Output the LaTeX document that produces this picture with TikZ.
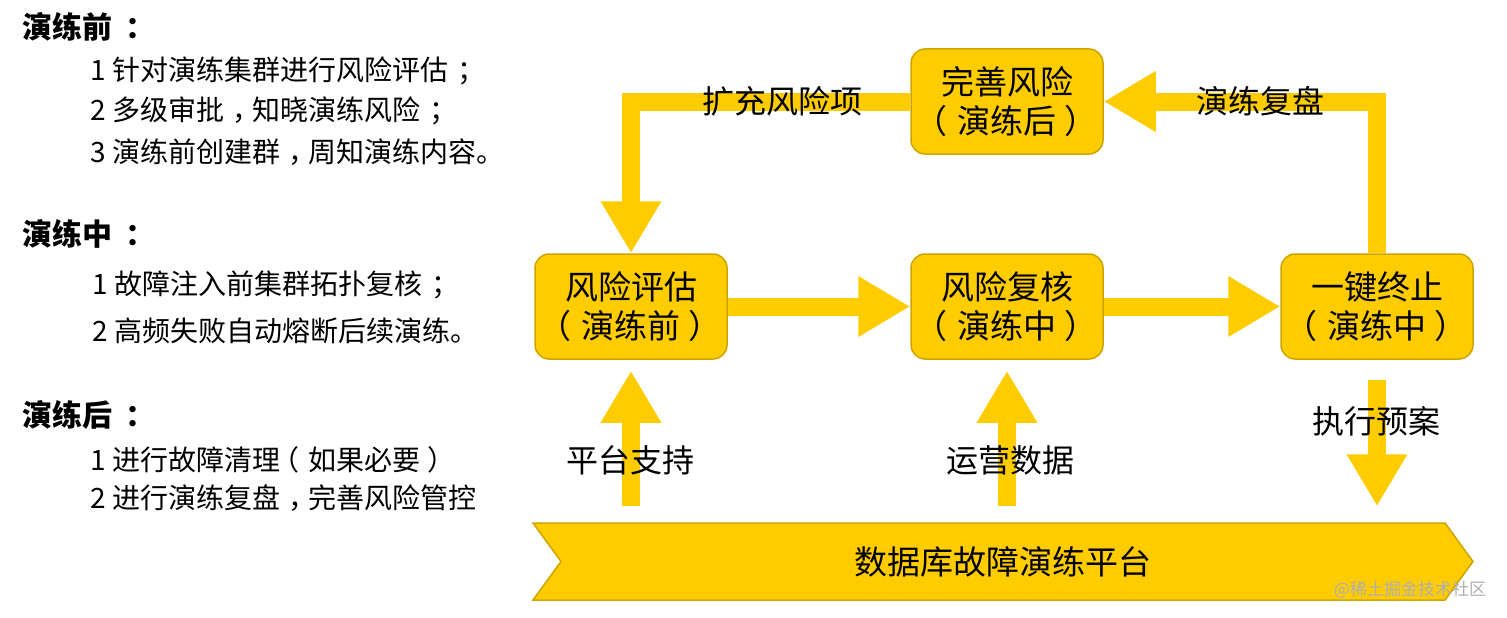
\documentclass[tikz,border=0pt]{standalone}
\usepackage{fontspec}
\setmainfont{Noto Sans CJK SC}
\usetikzlibrary{arrows.meta,shapes.symbols}
\definecolor{gold}{RGB}{255,204,0}
\definecolor{goldedge}{RGB}{205,165,0}
\definecolor{wmgray}{RGB}{175,175,175}
\pgfdeclarelayer{bg}
\pgfsetlayers{bg,main}
\newcommand\pcomma{\kern0.3em，\kern-0.3em}
\newcommand\psemi{\kern0.35em；\kern-0.35em}
\newcommand\pcolon{\kern0.45em：\kern-0.45em}
\newcommand\plp{\kern-0.3em（\kern0.3em}
\newcommand\prp{\kern0.25em）\kern-0.25em}
\begin{document}
\begin{tikzpicture}[x=1pt,y=-1pt,
  box/.style={draw=goldedge, line width=1.5pt, fill=gold, rounded corners=14pt, minimum width=192pt, minimum height=105pt, align=center, font=\fontsize{33}{39}\selectfont, inner sep=0pt},
  blk/.style={draw=gold, line width=18pt, line join=miter, -{Triangle[width=57pt,length=52pt]}},
  lbl/.style={font=\fontsize{32}{38}\selectfont, inner sep=0pt},
  item/.style={anchor=west, font=\fontsize{28}{32}\selectfont, inner sep=0pt},
  headtxt/.style={anchor=west, font=\fontsize{30}{36}\selectfont\bfseries, inner sep=0pt}]
\useasboundingbox (0,0) rectangle (1507,618);

% left text
\node[headtxt] (h1) at (22,27) {演练前\pcolon};
\node[item] (a1) at (90,71) {1 针对演练集群进行风险评估\psemi};
\node[item] (a2) at (90,111) {2 多级审批\pcomma 知晓演练风险\psemi};
\node[item] (a3) at (90,152) {3 演练前创建群\pcomma 周知演练内容。};
\node[headtxt] (h2) at (22,234) {演练中\pcolon};
\node[item] (b1) at (92,285) {1 故障注入前集群拓扑复核\psemi};
\node[item] (b2) at (92,331) {2 高频失败自动熔断后续演练。};
\node[headtxt] (h3) at (22,415) {演练后\pcolon};
\node[item] (c1) at (90,460) {1 进行故障清理\plp 如果必要\prp};
\node[item] (c2) at (90,498) {2 进行演练复盘\pcomma 完善风险管控};

% boxes
\node[box] (pg) at (631,306.5) {风险评估\\\plp 演练前\prp};
\node[box] (fh) at (1007,306.5) {风险复核\\\plp 演练中\prp};
\node[box] (zz) at (1377,306.5) {一键终止\\\plp 演练中\prp};
\node[box] (ws) at (1007,101.5) {完善风险\\\plp 演练后\prp};

% platform chevron
\node[signal, signal to=east, signal from=west, signal pointer angle=108,
  draw=goldedge, fill=gold, line width=1.5pt, minimum width=940pt, minimum height=77pt,
  font=\fontsize{33}{39}\selectfont, inner sep=0pt] (plat) at (1003,561.5) {数据库故障演练平台};

% arrows
\begin{pgfonlayer}{bg}
\draw[blk] (ws.west) -| (pg.north);
\draw[blk] (zz.north) |- (ws.east);
\draw[blk] (pg.east) -- (fh.west);
\draw[blk] (fh.east) -- (zz.west);
\draw[blk] ([yshift=16pt]plat.north -| pg.south) -- ([yshift=-11pt]pg.south);
\draw[blk] ([yshift=16pt]plat.north -| fh.south) -- ([yshift=-11pt]fh.south);
\draw[blk] ([yshift=-20pt]zz.south) -- ([yshift=16pt]plat.north -| zz.south);
\end{pgfonlayer}

% labels
\node[lbl] (l1) at (782,101) {扩充风险项};
\node[lbl] (l2) at (1260,101) {演练复盘};
\node[lbl] (l3) at (630,460) {平台支持};
\node[lbl] (l4) at (1010,460) {运营数据};
\node[lbl] (l5) at (1376,421) {执行预案};

% watermark
\node[font=\fontsize{17}{20}\selectfont, text=wmgray, inner sep=0pt] (wm) at (1410,590) {@稀土掘金技术社区};
\end{tikzpicture}
\end{document}
